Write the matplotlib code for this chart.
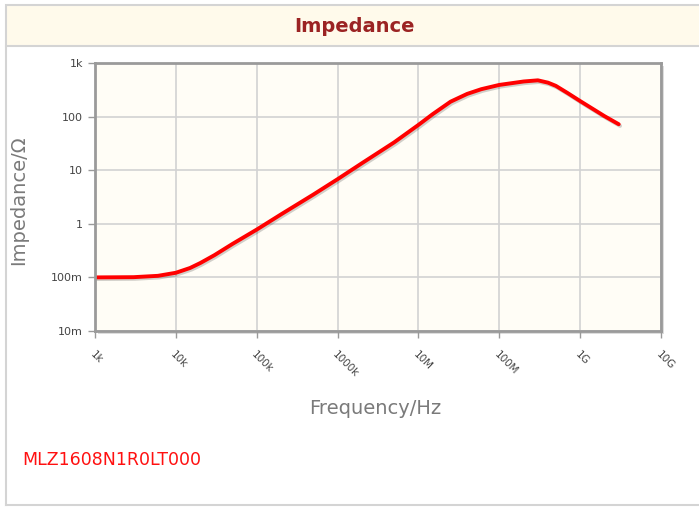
import numpy as np
import matplotlib
matplotlib.use("Agg")
import matplotlib.pyplot as plt
import matplotlib.patheffects as pe
from matplotlib.patches import Rectangle
from matplotlib.lines import Line2D

# values
freq_hz = [1e3, 3e3, 6e3, 1e4, 1.5e4, 2e4, 3e4, 5e4, 1e5, 2e5, 5e5, 1e6, 2e6, 5e6,
           1e7, 1.5e7, 2.5e7, 4e7, 6e7, 1e8, 1.5e8, 2e8, 3e8, 4e8, 5e8, 7e8,
           1e9, 2e9, 3e9]
impedance = [0.100, 0.101, 0.107, 0.122, 0.15, 0.185, 0.26, 0.42, 0.78, 1.5, 3.5,
             6.8, 13.5, 33, 70, 111, 190, 265, 325, 390, 425, 452, 475, 430, 375,
             275, 195, 102, 72]

x_ticks = [1e3, 1e4, 1e5, 1e6, 1e7, 1e8, 1e9, 1e10]
x_labels = ["1k", "10k", "100k", "1000k", "10M", "100M", "1G", "10G"]
y_ticks = [1e-2, 1e-1, 1, 10, 100, 1e3]
y_labels = ["10m", "100m", "1", "10", "100", "1k"]
part_name = "MLZ1608N1R0LT000"

W, H = 699, 507
fig = plt.figure(figsize=(W / 100, H / 100), dpi=100)
fig.patch.set_facecolor("white")

def fx(px):
    return px / W

def fy(py):
    return 1 - py / H

# outer panel + header band
fig.patches.append(Rectangle((fx(6), fy(46)), fx(702) - fx(6), fy(5) - fy(46),
                             transform=fig.transFigure, facecolor="#fffaeb",
                             edgecolor="#d4d4d4", linewidth=1.5, zorder=-2))
fig.lines.append(Line2D([fx(6), fx(6)], [fy(46), fy(505)], transform=fig.transFigure,
                        color="#d4d4d4", linewidth=1.5, zorder=-2))
fig.lines.append(Line2D([fx(6), fx(699)], [fy(505), fy(505)], transform=fig.transFigure,
                        color="#d4d4d4", linewidth=1.5, zorder=-2))
fig.text(fx(355), fy(26), "Impedance", ha="center", va="center",
         fontsize=14, fontweight="bold", color="#9b2323")

# axes
left, right, top, bottom = 95, 661, 63, 331
ax = fig.add_axes([fx(left), fy(bottom), fx(right) - fx(left), fy(top) - fy(bottom)])

# frame shadow
fig.patches.append(Rectangle((fx(left + 3), fy(bottom + 3)), fx(right) - fx(left),
                             fy(top) - fy(bottom), transform=fig.transFigure,
                             facecolor="#dddddd", edgecolor="none", zorder=-1))

ax.set_facecolor("#fffdf6")
ax.set_xscale("log")
ax.set_yscale("log")
ax.set_xlim(1e3, 1e10)
ax.set_ylim(1e-2, 1e3)
ax.set_xticks(x_ticks)
ax.set_xticklabels(x_labels)
ax.set_yticks(y_ticks)
ax.set_yticklabels(y_labels)
ax.minorticks_off()
ax.grid(True, color="#d2d2d2", linewidth=1.2)
for s in ax.spines.values():
    s.set_color("#9a9a9a")
    s.set_linewidth(2)
ax.tick_params(axis="both", colors="#9a9a9a", labelcolor="#444444",
               labelsize=8, length=5, width=1)
ax.tick_params(axis="x", pad=8)
plt.setp(ax.get_xticklabels(), rotation=-45, ha="left", va="top",
         rotation_mode="anchor", fontsize=7.5)

ax.plot(freq_hz, impedance, color="#ff0000", linewidth=2.8, solid_capstyle="round",
        solid_joinstyle="round",
        path_effects=[pe.SimpleLineShadow(offset=(1, -1.2), alpha=0.18), pe.Normal()])

fig.text(fx(19), fy(200), "Impedance/\u03a9", rotation=90, ha="center", va="center",
         fontsize=14, color="#7a7a7a")
fig.text(fx(375), fy(408), "Frequency/Hz", ha="center", va="center",
         fontsize=14, color="#7a7a7a")
fig.text(fx(22), fy(460), part_name, ha="left", va="center",
         fontsize=12.5, color="#ff1010")

fig.savefig("out.png", dpi=100)
